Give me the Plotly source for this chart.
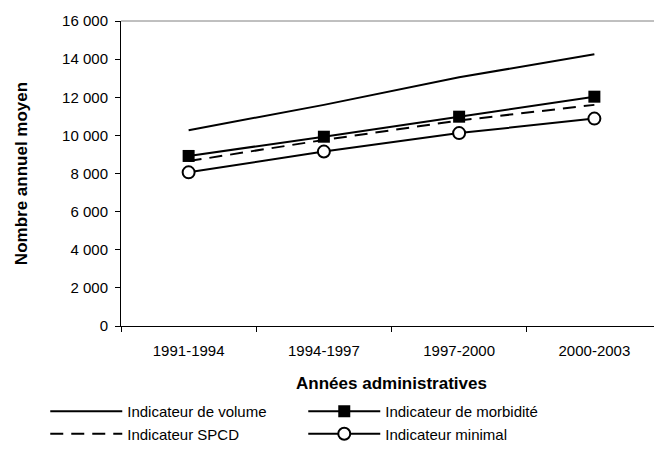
import plotly.graph_objects as go

categories = ["1991-1994", "1994-1997", "1997-2000", "2000-2003"]
volume = [10270, 11600, 13050, 14250]
morbidite = [8920, 9930, 10980, 12030]
spcd = [8650, 9760, 10780, 11600]
minimal = [8060, 9150, 10120, 10880]

font_family = "Liberation Sans, Arial, sans-serif"

fig = go.Figure()
fig.add_trace(go.Scatter(x=categories, y=volume, mode="lines", name="Indicateur de volume",
                         line=dict(color="black", width=2)))
fig.add_trace(go.Scatter(x=categories, y=morbidite, mode="lines+markers", name="Indicateur de morbidité",
                         line=dict(color="black", width=2),
                         marker=dict(symbol="square", size=12, color="black")))
fig.add_trace(go.Scatter(x=categories, y=spcd, mode="lines", name="Indicateur SPCD",
                         line=dict(color="black", width=2, dash="13px,8px")))
fig.add_trace(go.Scatter(x=categories, y=minimal, mode="lines+markers", name="Indicateur minimal",
                         line=dict(color="black", width=2),
                         marker=dict(symbol="circle", size=12, color="white",
                                     line=dict(color="black", width=2))))

fig.update_layout(
    width=654, height=462,
    margin=dict(l=113, r=0, t=13, b=144),
    plot_bgcolor="white", paper_bgcolor="white",
    separators=", ",
    font=dict(family=font_family, size=15, color="black"),
    showlegend=True,
    legend=dict(orientation="h", x=-0.140, xanchor="left", y=-0.226, yanchor="top",
                entrywidth=171, entrywidthmode="pixels", itemwidth=72, tracegroupgap=0,
                font=dict(size=15), itemclick=False),
    shapes=[dict(type="line", xref="paper", yref="paper", x0=0, x1=1, y0=1, y1=1,
                 line=dict(color="#808080", width=1))],
)
fig.update_xaxes(type="category", range=[-0.5, 3.5], tickson="boundaries",
                 ticks="outside", ticklen=5, tickcolor="black", ticklabelstandoff=11,
                 showline=True, linecolor="black", linewidth=1, showgrid=False,
                 title=dict(text="<b>Années administratives</b>", font=dict(size=17), standoff=19),
                 tickfont=dict(size=15))
fig.update_yaxes(range=[0, 16000], dtick=2000, tickformat=",d",
                 ticks="outside", ticklen=5, tickcolor="black", ticklabelstandoff=4,
                 showline=True, linecolor="black", linewidth=1, showgrid=False, zeroline=False,
                 title=dict(text="<b>Nombre annuel moyen</b>", font=dict(size=17), standoff=30),
                 tickfont=dict(size=15))

fig.write_html("out.html")
